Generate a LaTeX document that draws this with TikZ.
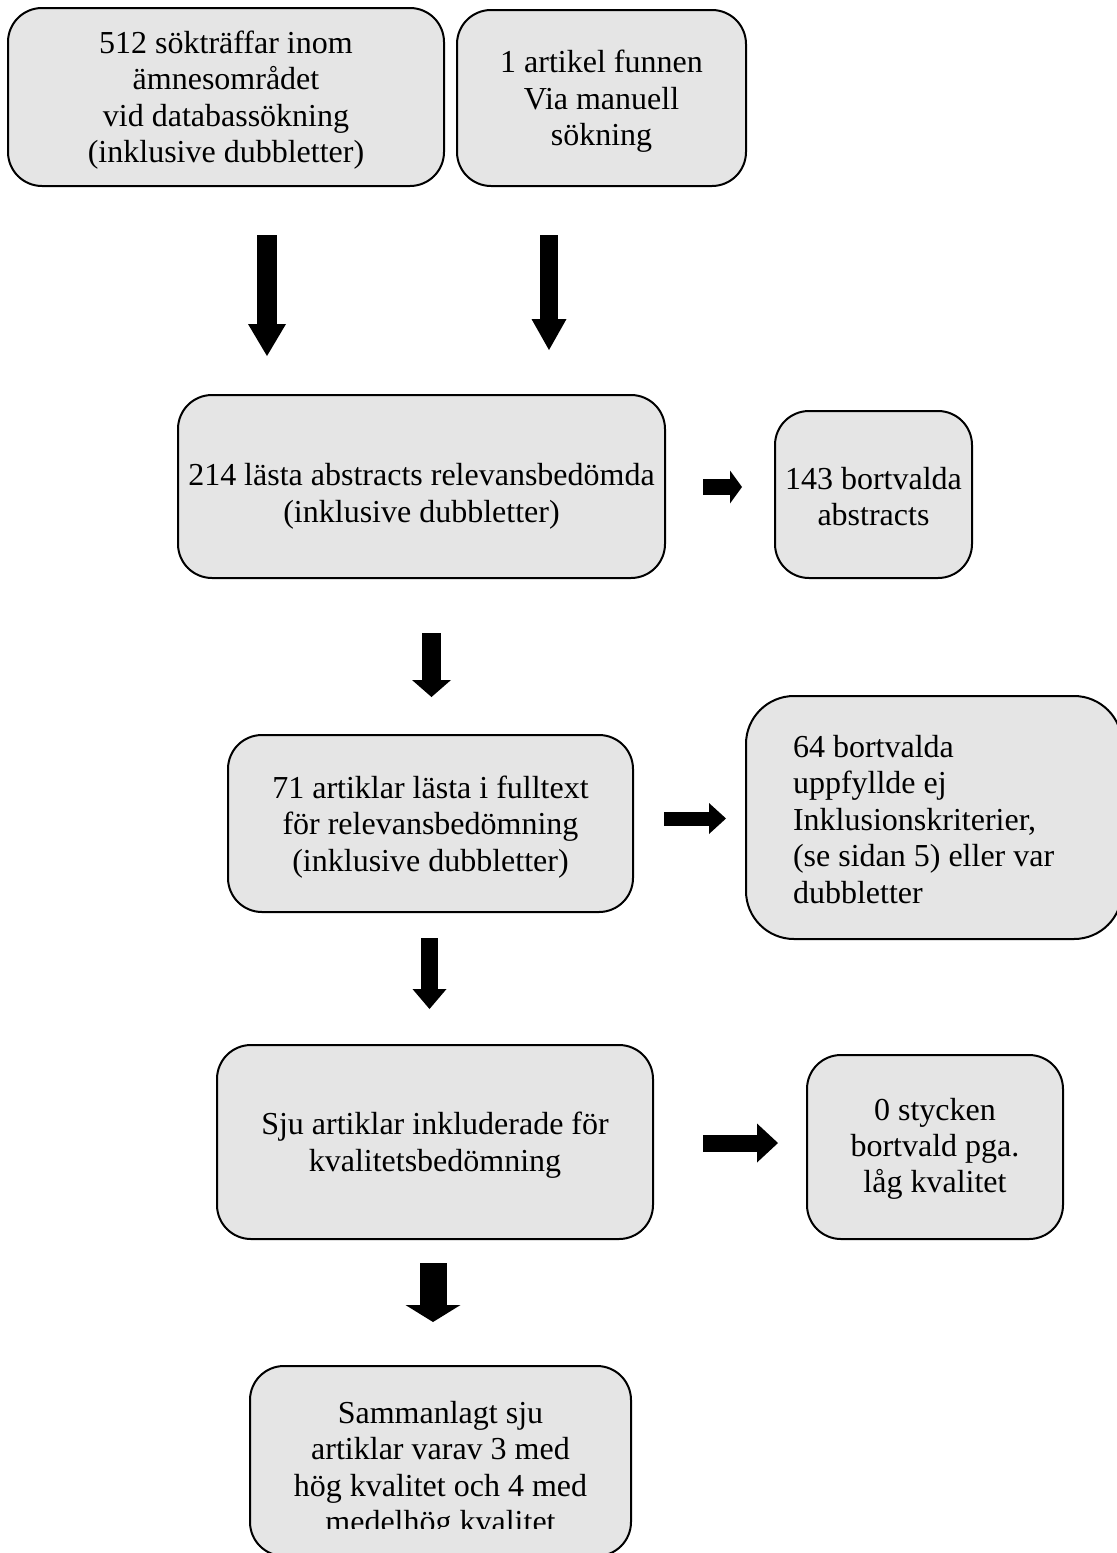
\documentclass[tikz,border=0pt]{standalone}
\usepackage{fontspec}
\setmainfont{Liberation Serif}
\usetikzlibrary{arrows.meta}
\tikzset{txt/.style={align=center, inner sep=0pt, font=\fontsize{16pt}{18.2pt}\selectfont}}
\tikzset{ruta/.style={txt, align=flush center, draw=black, line width=1pt, fill=black!10, rounded corners=17pt, execute at begin node={\rule{0pt}{#1}}}, ruta/.default=14.5pt}
\tikzset{pil/.style n args={3}{line width=#1, -{Triangle[length=#2, width=#3, line width=0pt]}}}

\begin{document}
\begin{tikzpicture}[x=0.5pt, y=-0.5pt]
    \useasboundingbox (0, 0) rectangle (1117, 1553);

    \node[ruta, text width=212pt, minimum width=218pt, minimum height=89pt] (sok) at (226, 97) {512 sökträffar inom\\ämnesområdet\\vid databassökning\\(inklusive dubbletter)};
    \node[ruta, text width=138pt, minimum width=144.5pt, minimum height=88pt] (manuell) at (601.5, 98) {1 artikel funnen\\Via manuell\\sökning};
    \node[ruta=21pt, text width=241pt, minimum width=243.5pt, minimum height=91.5pt] (abstr) at (421.5, 486.5) {214 lästa abstracts relevansbedömda\\(inklusive dubbletter)};
    \node[ruta=13pt, text width=96pt, minimum width=98.5pt, minimum height=83.5pt] (bort1) at (873.5, 494.5) {143 bortvalda\\abstracts};
    \node[ruta, text width=196pt, minimum width=202.5pt, minimum height=88.5pt] (fulltext) at (430.5, 823.5) {71 artiklar lästa i fulltext\\för relevansbedömning\\(inklusive dubbletter)};
    \node[ruta=13pt, rounded corners=24pt, align=flush left, text width=141pt, minimum width=188pt, minimum height=121.5pt] (bort2) at (934, 817.5) {64 bortvalda\\uppfyllde ej\\Inklusionskriterier,\\(se sidan 5) eller var\\dubbletter};
    \node[ruta, text width=212pt, minimum width=218pt, minimum height=97pt] (kval) at (435, 1142) {Sju artiklar inkluderade för\\kvalitetsbedömning};
    \node[ruta=13pt, text width=122pt, minimum width=128pt, minimum height=92pt] (bort3) at (935, 1147) {0 stycken\\bortvald pga.\\låg kvalitet};
    \node[ruta, minimum width=190.5pt, minimum height=95pt] (samman) at (440.5, 1461) {};
    \begin{scope}
        \clip (250, 1366) rectangle (631, 1528);
        \node[txt] (sammantext) at (440.5, 1470.5) {Sammanlagt sju\\artiklar varav 3 med\\hög kvalitet och 4 med\\medelhög kvalitet};
    \end{scope}

    \coordinate (p1a) at (267, 235);
    \coordinate (p1b) at (267, 356);
    \coordinate (p2a) at (549, 235);
    \coordinate (p2b) at (549, 350);
    \coordinate (p3a) at (431.5, 633);
    \coordinate (p3b) at (431.5, 697);
    \coordinate (p4a) at (703, 487);
    \coordinate (p4b) at (742, 487);
    \coordinate (p5a) at (664, 818.5);
    \coordinate (p5b) at (726, 818.5);
    \coordinate (p6a) at (429.5, 938);
    \coordinate (p6b) at (429.5, 1009);
    \coordinate (p7a) at (703, 1143);
    \coordinate (p7b) at (778, 1143);
    \coordinate (p8a) at (433, 1263);
    \coordinate (p8b) at (433, 1322);

    \draw[pil={10pt}{16pt}{19pt}] (p1a) -- (p1b);
    \draw[pil={9pt}{15.5pt}{17.5pt}] (p2a) -- (p2b);
    \draw[pil={9.5pt}{8.5pt}{19.5pt}] (p3a) -- (p3b);
    \draw[pil={8pt}{6pt}{16.5pt}] (p4a) -- (p4b);
    \draw[pil={7pt}{8.5pt}{15.5pt}] (p5a) -- (p5b);
    \draw[pil={8.5pt}{10pt}{17pt}] (p6a) -- (p6b);
    \draw[pil={8.5pt}{10.5pt}{19.5pt}] (p7a) -- (p7b);
    \draw[pil={13.5pt}{8.5pt}{27.5pt}] (p8a) -- (p8b);
\end{tikzpicture}
\end{document}
